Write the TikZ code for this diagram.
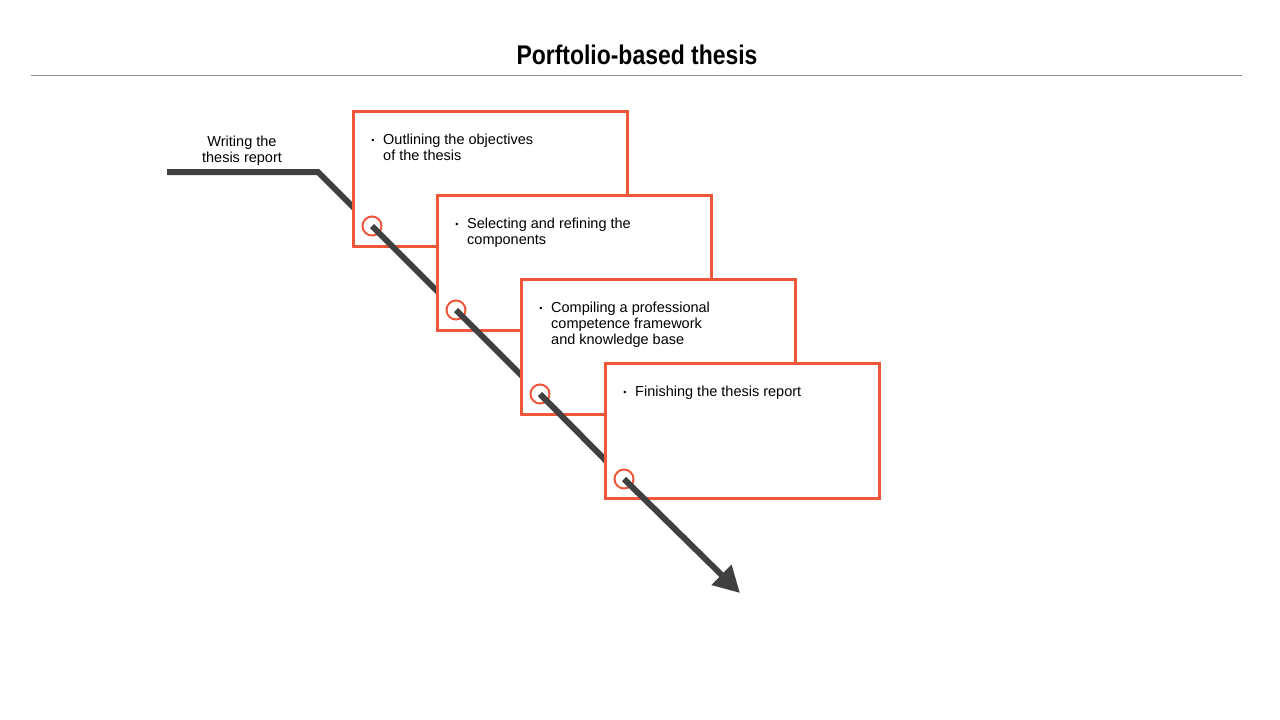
\documentclass[tikz,border=0pt]{standalone}
\usepackage{fontspec}
\setmainfont{Liberation Sans}
\newfontfamily\titlefont[FakeStretch=0.85]{Liberation Sans}
\usetikzlibrary{arrows.meta,positioning}
\definecolor{boxcol}{RGB}{240,86,58}
\definecolor{trackcol}{RGB}{64,64,64}
\definecolor{rulecol}{RGB}{140,140,140}

\begin{document}
\begin{tikzpicture}[x=1pt, y=-1pt,
  every node/.style={font=\fontsize{14.5}{16}\selectfont},
  stepbox/.style={draw=boxcol, line width=2.6pt, fill=white, anchor=north west,
    minimum width=274pt, minimum height=135pt, inner sep=0pt},
  knot/.style={circle, draw=boxcol, line width=2pt, fill=white,
    minimum size=19pt, inner sep=0pt},
  track/.style={draw=trackcol, line width=6pt},
  plain/.style={},
  endtip/.style={-{Triangle[length=26pt,width=27pt]}}]
  % page frame 1280x720
  \useasboundingbox (0,0) rectangle (1280,720);
  % title and rule
  \node[font=\titlefont\fontsize{27}{30}\selectfont\bfseries] (title) at (637,55) {Porftolio-based thesis};
  \draw[rulecol, line width=1pt] (31,75) -- (1242,75);
  % track points
  \coordinate (start) at (167,172);
  \coordinate (bend) at (318,172);
  \coordinate (c0) at (372,226);
  \coordinate (c1) at (456,310);
  \coordinate (c2) at (540,394);
  \coordinate (c3) at (624,479);
  \coordinate (c4) at (740,593);
  \node[align=center] (lbl) at (242,151) {Writing the\\thesis report};
  \draw[track] (start) -- (bend) -- (c0);
  % the four steps
  \foreach \i/\tipstyle/\txt [evaluate=\i as \xl using 351+84*\i,
      evaluate=\i as \yt using 109+84*\i, evaluate=\i as \j using int(\i+1)] in
    {0/plain/{Outlining the objectives\\of the thesis},
     1/plain/{Selecting and refining the\\components},
     2/plain/{Compiling a professional\\competence framework\\and knowledge base},
     3/endtip/{Finishing the thesis report}} {
    \node[stepbox] (s\i) at (\xl+1,\yt+1) {};
    \node[anchor=base] (d\i) at (\xl+22,\yt+35) {\raisebox{1pt}{\fontsize{9}{9}\selectfont\textbullet}};
    \node[anchor=base west, inner sep=0pt] (t\i) at (\xl+32,\yt+35)
      {\parbox[t]{230pt}{\raggedright\txt}};
    \node[knot] (k\i) at (c\i) {};
    \draw[track, \tipstyle] (k\i.center) -- (c\j);
  }
\end{tikzpicture}
\end{document}
